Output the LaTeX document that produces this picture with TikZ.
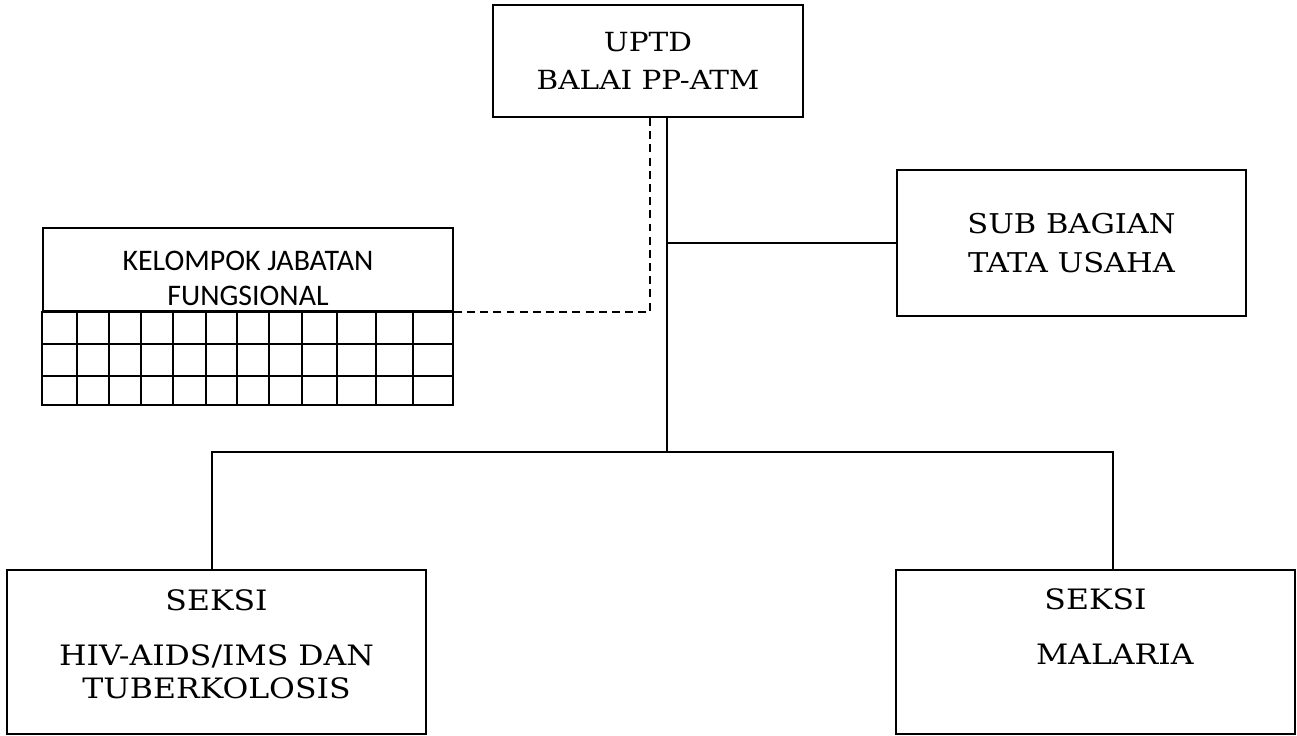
\documentclass[tikz,border=0pt]{standalone}
\usepackage{fontspec}
\setmainfont[FakeStretch=1.12]{DejaVu Serif}
\newfontfamily\kjffont{Carlito}
\usetikzlibrary{positioning}

\begin{document}
\begin{tikzpicture}[
        x=0.02cm, y=-0.02cm,
        unit/.style={rectangle, draw, line width=1.3pt, align=center, inner sep=0pt},
        link/.style={line width=1.3pt},
        dashlink/.style={line width=1.3pt, dash pattern=on 4.5pt off 3pt},
        gridline/.style={line width=1pt}
    ]
        \useasboundingbox (0,0) rectangle (1297,736);

        % Blocks
        \node[unit, minimum width=6.2cm, minimum height=2.24cm, font=\fontsize{15}{21.5}\selectfont] (uptd) at (648,61) {UPTD\\BALAI PP-ATM};
        \node[unit, minimum width=6.98cm, minimum height=2.92cm, font=\fontsize{15.5}{22}\selectfont] (tu) at (1071.5,243) {SUB BAGIAN\\TATA USAHA};
        \node[unit, minimum width=8.38cm, minimum height=3.28cm, font=\fontsize{16}{19}\selectfont] (hiv) at (216.5,652) {SEKSI\\[12pt]HIV-AIDS/IMS DAN\\TUBERKOLOSIS\\[-10pt]\mbox{}};
        \node[unit, minimum width=7.98cm, minimum height=3.28cm, font=\fontsize{16}{19}\selectfont] (malaria) at (1095.5,652) {SEKSI\\[12pt]\hspace{22pt}MALARIA\\[10pt]\mbox{}};

        % Kelompok jabatan fungsional
        \node[unit, minimum width=8.2cm, minimum height=1.66cm, font=\kjffont\fontsize{17}{20}\selectfont] (kjf) at (248,269.5) {\rule{0pt}{21pt}KELOMPOK JABATAN\\FUNGSIONAL};
        \draw[gridline] (kjf.south west) rectangle (453,405);
        \foreach \gy in {344,376}
            \draw[gridline] (43,\gy) -- (453,\gy);
        \foreach \gx in {77,109,141,173,206,237,269,302,337,376,413}
            \draw[gridline] (\gx,311) -- (\gx,405);

        % Lines
        \coordinate (trunk) at (667,452);
        \coordinate (branch) at (667,243);
        \coordinate (bend) at (650,312);
        \draw[link] (uptd.south -| trunk) -- (trunk);
        \draw[link] (branch) -- (tu.west);
        \draw[link] (hiv.north -| 212,0) -- (212,452) -- (1113,452) -- (malaria.north -| 1113,0);
        \draw[dashlink] (uptd.south -| bend) -- (bend) -- (kjf.south east |- bend);
    \end{tikzpicture}
\end{document}
